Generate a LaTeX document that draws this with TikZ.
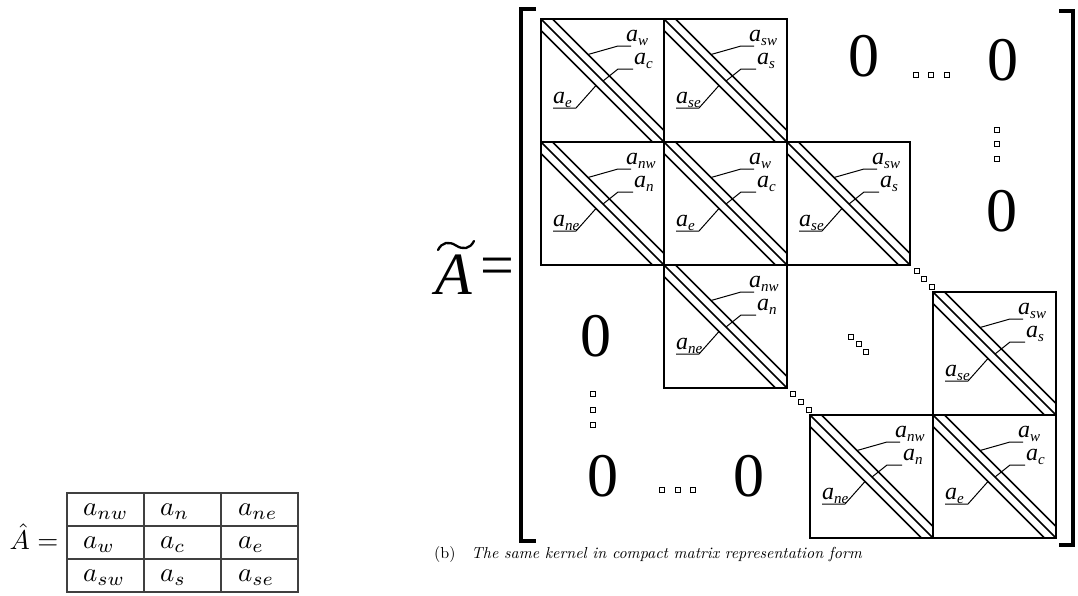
\documentclass[tikz,border=0pt]{standalone}
\usepackage{fontspec}
\usepackage{graphicx}
\newfontfamily\tnr{LiberationSerif}[Extension=.ttf, UprightFont=*-Regular, ItalicFont=*-Italic, BoldFont=*-Bold]
\newcommand\kblab[1]{a\raisebox{-0.17em}{\fontsize{15}{15}\selectfont #1}}
\newcommand\kblock[6]{%
  \begin{scope}[shift={(#2,#3)}]
    \draw[boxline] (0,0) rectangle (123,123);
    \draw[diag] (0,0) -- (123,123);
    \draw[diag] (11.5,0) -- (123,111.5);
    \draw[diag] (0,11.5) -- (111.5,123);
    \draw[leader] (47,35.5) -- (77,27) -- (90,27);
    \draw[leader] (62,62) -- (77,50) -- (92,50);
    \draw[leader] (12,89) -- (35,89) -- (55,66.5);
    \node[blab] (#1t) at (85,22) {\kblab{#4}};
    \node[blab] (#1m) at (93,45) {\kblab{#5}};
    \node[blab] (#1b) at (12,84) {\kblab{#6}};
  \end{scope}}
\newcommand\kdots[4]{%
  \node[dotsq] (#1a) at #2 {};
  \node[dotsq] (#1b) at #3 {};
  \node[dotsq] (#1c) at #4 {};}
\tikzset{
  boxline/.style={line width=1.1pt},
  diag/.style={line width=1.5pt},
  leader/.style={line width=1pt},
  blab/.style={anchor=base west, inner sep=0pt, font=\tnr\itshape\fontsize{24}{24}\selectfont},
  zero/.style={inner sep=0pt, font=\tnr\fontsize{62}{62}\selectfont},
  dotsq/.style={draw, line width=0.9pt, minimum size=4.5pt, inner sep=0pt},
  brk/.style={line width=3.5pt, miter limit=10},
  tbl/.style={line width=1.2pt, draw=black!75},
  cell/.style={anchor=base west, inner sep=0pt}
}
\newcommand\tcell[1]{\scalebox{2.7}{$#1$}}
\begin{document}
\begin{tikzpicture}[x=1pt, y=-1pt]
\useasboundingbox (0,0) rectangle (1078,595);
% ---- left table ----
\node[anchor=base east, inner sep=0pt] (ahat) at (58.5,549) {\scalebox{2.7}{$\hat{A} =$}};
\draw[tbl] (67,493) rectangle (298,592);
\draw[tbl] (144,493) -- (144,592);
\draw[tbl] (221,493) -- (221,592);
\draw[tbl] (67,526) -- (298,526);
\draw[tbl] (67,559) -- (298,559);
\node[cell] (c11) at (83,515) {\tcell{a_{nw}}};
\node[cell] (c12) at (160,515) {\tcell{a_{n}}};
\node[cell] (c13) at (238,515) {\tcell{a_{ne}}};
\node[cell] (c21) at (83,548) {\tcell{a_{w}}};
\node[cell] (c22) at (160,548) {\tcell{a_{c}}};
\node[cell] (c23) at (238,548) {\tcell{a_{e}}};
\node[cell] (c31) at (83,581) {\tcell{a_{sw}}};
\node[cell] (c32) at (160,581) {\tcell{a_{s}}};
\node[cell] (c33) at (238,581) {\tcell{a_{se}}};
% ---- A tilde ----
\node[anchor=base, inner sep=0pt, font=\tnr\itshape\fontsize{60}{60}\selectfont] (atil) at (454,294) {A};
\draw[line width=2.3pt, line cap=round] (438,250) .. controls (442,242) and (449,241) .. (456,245.5) .. controls (463,250) and (470,249) .. (474,241);
\node[inner sep=0pt, font=\tnr\fontsize{60}{60}\selectfont] (eq) at (497,272) {=};
% ---- brackets ----
\draw[brk] (536,9) -- (521,9) -- (521,541) -- (536,541);
\draw[brk] (1059,11) -- (1073,11) -- (1073,545) -- (1059,545);
% ---- blocks ----
\kblock{b11}{541}{19}{w}{c}{e}
\kblock{b12}{664}{19}{sw}{s}{se}
\kblock{b21}{541}{142}{nw}{n}{ne}
\kblock{b22}{664}{142}{w}{c}{e}
\kblock{b23}{787}{142}{sw}{s}{se}
\kblock{b32}{664}{265}{nw}{n}{ne}
\kblock{br1}{933}{292}{sw}{s}{se}
\kblock{br2}{810}{415}{nw}{n}{ne}
\kblock{br3}{933}{415}{w}{c}{e}
% ---- zeros ----
\node[zero] (z1) at (864,56) {0};
\node[zero] (z2) at (1003,60) {0};
\node[zero] (z3) at (1002,211) {0};
\node[zero] (z4) at (596,336) {0};
\node[zero] (z5) at (603,476) {0};
\node[zero] (z6) at (749,476) {0};
% ---- dots ----
\kdots{d1}{(916,75)}{(931,75)}{(947,75)}
\kdots{d2}{(997,130)}{(997,144)}{(997,159)}
\kdots{d3}{(917,271)}{(924,279)}{(932,287)}
\kdots{d4}{(851,337)}{(859,344)}{(866,352)}
\kdots{d5}{(793,394)}{(801,402)}{(809,410)}
\kdots{d6}{(593,394)}{(593,410)}{(593,425)}
\kdots{d7}{(662,490)}{(678,490)}{(693,490)}
% ---- caption ----
\node[anchor=base west, inner sep=0pt] (cap) at (434,558) {\resizebox{428pt}{!}{(b)\hspace{1em}\textit{The same kernel in compact matrix representation form}}};
\end{tikzpicture}
\end{document}
